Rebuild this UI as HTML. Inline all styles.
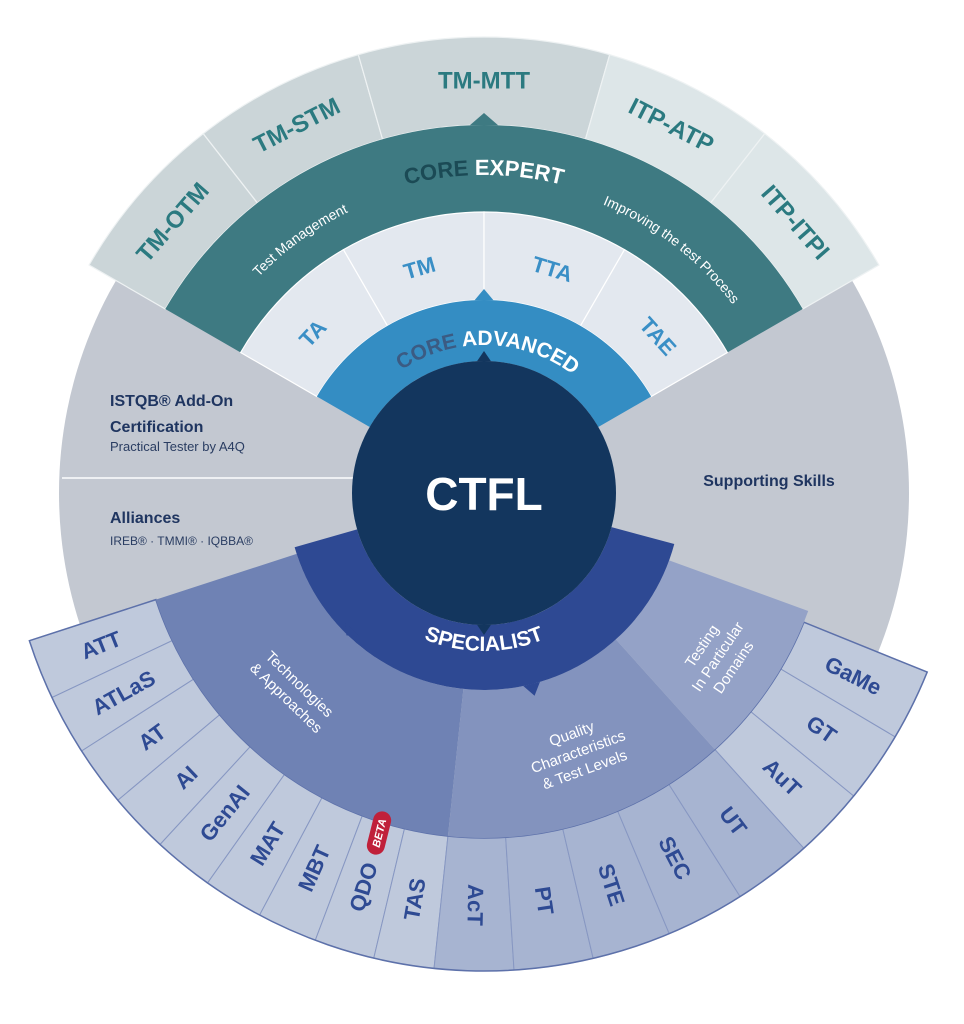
<!DOCTYPE html>
<html><head><meta charset="utf-8"><style>
html,body{margin:0;padding:0;background:#fff;}
svg{display:block}
text{font-family:"Liberation Sans",sans-serif;}
</style></head><body>
<svg id="s" width="964" height="1024" viewBox="0 0 964 1024" xmlns="http://www.w3.org/2000/svg"></svg>
<script>
const cx=484,cy=493,NS="http://www.w3.org/2000/svg";
const s=document.getElementById('s');
function P(r,a){a=a*Math.PI/180;return [(cx+r*Math.cos(a)).toFixed(2),(cy-r*Math.sin(a)).toFixed(2)];}
function sector(r1,r2,a1,a2){const L=(a2-a1)>180?1:0;const p1=P(r2,a1),p2=P(r2,a2),p3=P(r1,a2),p4=P(r1,a1);
return `M${p1} A${r2} ${r2} 0 ${L} 0 ${p2} L${p3} A${r1} ${r1} 0 ${L} 1 ${p4} Z`;}
function el(tag,attrs,txt){const e=document.createElementNS(NS,tag);for(const k in attrs)e.setAttribute(k,attrs[k]);if(txt!==undefined)e.textContent=txt;s.appendChild(e);return e;}
function path(d,fill,stroke,sw){return el('path',{d:d,fill:fill,stroke:stroke||'none','stroke-width':sw||0});}
function label(r,a,rot,str,size,fill,weight){const p=P(r,a);
 el('text',{x:p[0],y:p[1],transform:`rotate(${rot} ${p[0]} ${p[1]})`,'text-anchor':'middle','dominant-baseline':'central','font-size':size,fill:fill,style:'font-weight:'+(weight||'bold')},str);}
function multi(r,a,rot,lines,size,fill,lh){const p=P(r,a);
 const t=el('text',{transform:`translate(${p[0]} ${p[1]}) rotate(${rot})`,'text-anchor':'middle','font-size':size,fill:fill,style:'font-weight:normal'});
 const n=lines.length;lines.forEach((l,i)=>{const ts=document.createElementNS(NS,'tspan');ts.setAttribute('x',0);ts.setAttribute('y',((i-(n-1)/2)*lh+size*0.35).toFixed(1));ts.textContent=l;t.appendChild(ts);});}
function tri(r,a,h,w,fill,out){
 const base1=P(r,a+w),base2=P(r,a-w),tip=P(r+(out?h:-h),a);
 el('polygon',{points:`${base1} ${tip} ${base2}`,fill:fill});}

el('circle',{cx:cx,cy:cy,r:425,fill:'#c3c8d1'});
const eo=[[128,150,'TM-OTM','#cbd5d8'],[106,128,'TM-STM','#cbd5d8'],[74,106,'TM-MTT','#cbd5d8'],[52,74,'ITP-ATP','#dde6e8'],[30,52,'ITP-ITPI','#dde6e8']];
eo.forEach(e=>path(sector(368,456,e[0],e[1]),e[3],'#eef2f3',1.2));
eo.forEach(e=>{const m=(e[0]+e[1])/2;label(412,m,90-m,e[2],24,'#2b7a80');});
path(sector(281,368,30,150),'#3e7a82');
tri(368,90,12,2.2,'#3e7a82',1);
const lb=[[120,150,'TA'],[90,120,'TM'],[60,90,'TTA'],[30,60,'TAE']];
lb.forEach(e=>path(sector(193,281,e[0],e[1]),'#e3e8ef','#ffffff',1.2));
[[137,'TA'],[106,'TM'],[73,'TTA'],[42,'TAE']].forEach(e=>label(234,e[0],90-e[0],e[1],22,'#3a8fc6'));
path(sector(132,193,30,150),'#348dc3');
tri(193,90,11,2.8,'#348dc3',1);
el('line',{x1:62,y1:478,x2:360,y2:478,stroke:'#eef0f3','stroke-width':2});
const ta=['ATT','ATLaS','AT','AI','GenAI','MAT','MBT','QDO','TAS'];
const qc=['AcT','PT','STE','SEC','UT'];
const dm=['AuT','GT','GaMe'];
const outerItems=[];
ta.forEach((t,i)=>outerItems.push([198+i*66/9,198+(i+1)*66/9,t,'#bfc9dc']));
qc.forEach((t,i)=>outerItems.push([264+i*9.6,264+(i+1)*9.6,t,'#a7b4d1']));
dm.forEach((t,i)=>outerItems.push([312+i*26/3,312+(i+1)*26/3,t,'#bfc9dc']));
outerItems.forEach(e=>path(sector(345,478,e[0],e[1]),e[3],'#8797c2',1));
path(sector(345,478,198,338),'none','#5d71aa',1.5);
outerItems.forEach(e=>{const m=(e[0]+e[1])/2;const rot=m<265?180-m:-m;label(412,m,rot,e[2],22,'#2e4a93');});
path(sector(197,345,198,264),'#6f82b4');
path(sector(197,345,264,312),'#8393be');
path(sector(197,345,312,340),'#94a2c7');
path(sector(132,197,196,345),'#2e4993');
tri(197,284,12,2.5,'#2e4993',1);
tri(190,226,8,3,'#2e4993',1);
el('circle',{cx:cx,cy:cy,r:132,fill:'#13365e'});
tri(132,90,10,3,'#13365e',1);
tri(132,270,10,3,'#13365e',1);
el('text',{x:cx,y:510,'text-anchor':'middle','font-size':46,fill:'#fff',style:'font-weight:bold'},'CTFL');

const defs=el('defs',{});
function arcTop(id,r,a1,a2){const p1=P(r,a1),p2=P(r,a2);const d=document.createElementNS(NS,'path');d.setAttribute('id',id);d.setAttribute('d',`M${p1} A${r} ${r} 0 0 1 ${p2}`);defs.appendChild(d);}
function arcBot(id,r,a1,a2){const p1=P(r,a1),p2=P(r,a2);const d=document.createElementNS(NS,'path');d.setAttribute('id',id);d.setAttribute('d',`M${p1} A${r} ${r} 0 0 0 ${p2}`);defs.appendChild(d);}
arcTop('ce',318,170,10);arcTop('ca',148,170,10);arcTop('tm',312,170,90);arcTop('ip',312,90,10);arcBot('sp',158,200,340);
function tp(id,offset,size,parts,weight){const t=el('text',{'font-size':size,style:'font-weight:'+(weight||'bold')});
 const p=document.createElementNS(NS,'textPath');p.setAttribute('href','#'+id);p.setAttribute('startOffset',offset);p.setAttribute('text-anchor','middle');
 parts.forEach(x=>{const ts=document.createElementNS(NS,'tspan');ts.setAttribute('fill',x[1]);ts.textContent=x[0];p.appendChild(ts);});t.appendChild(p);}
tp('ce','50%',22,[['CORE ','#1b4a55'],['EXPERT','#ffffff']]);
tp('ca','51%',21,[['CORE ','#3b5b83'],['ADVANCED','#ffffff']]);
tp('tm','55%',14,[['Test Management','#ffffff']],'normal');
tp('ip','47%',14,[['Improving the test Process','#ffffff']],'normal');
tp('sp','50%',21,[['SPECIALIST','#ffffff']]);

multi(275,226,44,['Technologies','& Approaches'],15,'#fff',19);
multi(275,290,-20,['Quality','Characteristics','& Test Levels'],15,'#fff',19);
multi(285,325,-56,['Testing','In Particular','Domains'],15,'#fff',19);

const bp=[379,833];
const g=el('g',{transform:`translate(${bp[0]} ${bp[1]}) rotate(-76)`});
const r1=document.createElementNS(NS,'rect');[['x',-22],['y',-9],['width',44],['height',18],['rx',9],['fill','#c0203a']].forEach(a=>r1.setAttribute(a[0],a[1]));g.appendChild(r1);
const bt=document.createElementNS(NS,'text');[['x',0],['y',4],['text-anchor','middle'],['font-size',11],['fill','#fff'],['font-style','italic'],['style','font-weight:bold']].forEach(a=>bt.setAttribute(a[0],a[1]));bt.textContent='BETA';g.appendChild(bt);

el('text',{x:110,y:406,'font-size':16,fill:'#1f3560',style:'font-weight:bold'},'ISTQB® Add-On');
el('text',{x:110,y:432,'font-size':16,fill:'#1f3560',style:'font-weight:bold'},'Certification');
el('text',{x:110,y:451,'font-size':13,fill:'#2a3d62',style:'font-weight:normal'},'Practical Tester by A4Q');
el('text',{x:110,y:523,'font-size':16,fill:'#1f3560',style:'font-weight:bold'},'Alliances');
el('text',{x:110,y:545,'font-size':12,fill:'#2a3d62',style:'font-weight:normal'},'IREB® · TMMI® · IQBBA®');
el('text',{x:769,y:486,'font-size':16,fill:'#1f3560','text-anchor':'middle',style:'font-weight:bold'},'Supporting Skills');
</script>
</body></html>
